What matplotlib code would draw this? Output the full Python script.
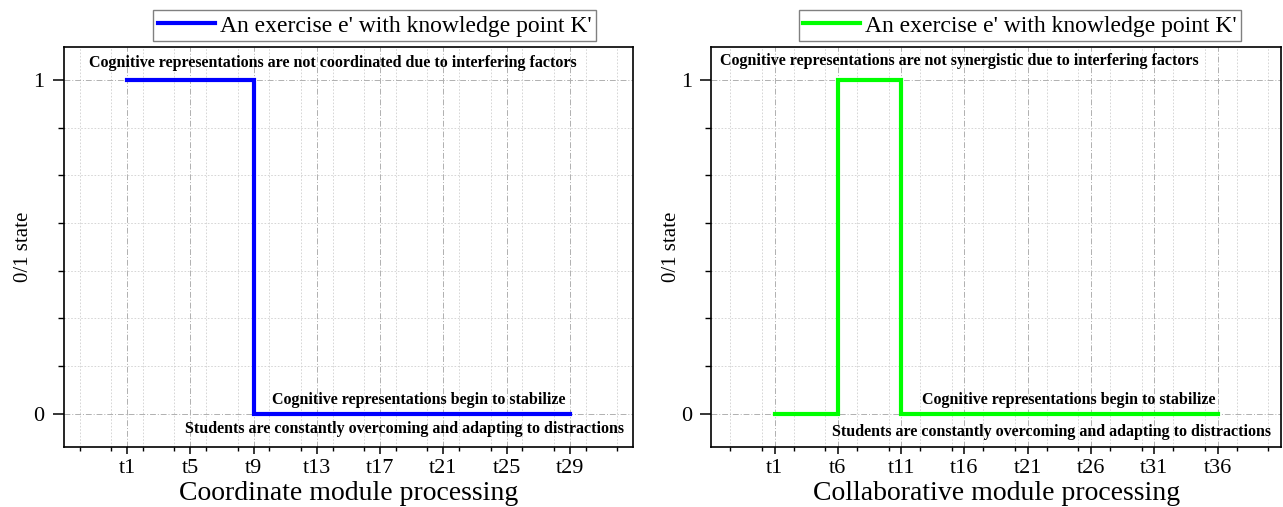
import numpy as np
import matplotlib.pyplot as plt
from matplotlib.ticker import MultipleLocator, FixedLocator

plt.rcParams['font.family'] = ['Liberation Serif', 'DejaVu Serif']

# coordinate module: time steps t1..t29, state 1 until t9 then 0
coord_t = list(range(1, 30))
coord_state = [1] * 8 + [0] * 21
coord_ticks = [1, 5, 9, 13, 17, 21, 25, 29]

# collaborative module: time steps t1..t36, state 1 between t6 and t11
collab_t = list(range(1, 37))
collab_state = [0] * 5 + [1] * 5 + [0] * 26
collab_ticks = [1, 6, 11, 16, 21, 26, 31, 36]

legend_label = "An exercise e' with knowledge point K'"

fig = plt.figure(figsize=(12.83, 5.07), dpi=100)
ax1 = fig.add_axes([0.0497, 0.1183, 0.4437, 0.7896])
ax2 = fig.add_axes([0.5544, 0.1183, 0.4440, 0.7896])


def style_axes(ax, ticks, xlim, minor_step, xlabel):
    ax.set_xlim(*xlim)
    ax.set_ylim(-0.1, 1.1)
    ax.xaxis.set_major_locator(FixedLocator(ticks))
    ax.set_xticklabels(['t%d' % t for t in ticks])
    ax.xaxis.set_minor_locator(MultipleLocator(minor_step))
    ax.yaxis.set_major_locator(MultipleLocator(1))
    ax.yaxis.set_minor_locator(MultipleLocator(1 / 7))
    ax.tick_params(which='major', direction='out', length=5, width=1.1,
                   labelsize=16, top=False, right=False)
    ax.tick_params(which='minor', direction='out', length=3, width=1.0,
                   top=False, right=False)
    ax.tick_params(axis='y', which='major', length=8, pad=6)
    ax.tick_params(axis='y', which='minor', length=4)
    ax.grid(which='major', color='#b0b0b0', linestyle=(0, (6, 2, 1, 2)), linewidth=0.7)
    ax.grid(which='minor', color='#d0d0d0', linestyle=(0, (2, 2)), linewidth=0.6)
    ax.set_axisbelow(True)
    for s in ax.spines.values():
        s.set_linewidth(1.2)
    ax.set_xlabel(xlabel, fontsize=20, labelpad=2)
    ax.set_ylabel('0/1 state', fontsize=15)
    ax.yaxis.set_label_coords(-0.054, 0.5)


ax1.plot(coord_t, coord_state, drawstyle='steps-post', color='#0000ff', lw=3,
         label=legend_label, solid_joinstyle='miter')
style_axes(ax1, coord_ticks, (-3, 33), 2, 'Coordinate module processing')
ax1.text(14.0, 1.051, 'Cognitive representations are not coordinated due to interfering factors',
         ha='center', va='center', fontsize=11.5, fontweight='bold')
ax1.text(19.47, 0.042, 'Cognitive representations begin to stabilize',
         ha='center', va='center', fontsize=11.5, fontweight='bold')
ax1.text(18.53, -0.045, 'Students are constantly overcoming and adapting to distractions',
         ha='center', va='center', fontsize=11.5, fontweight='bold')

ax2.plot(collab_t, collab_state, drawstyle='steps-post', color='#00ff00', lw=3,
         label=legend_label, solid_joinstyle='miter')
style_axes(ax2, collab_ticks, (-4, 41), 2.5, 'Collaborative module processing')
ax2.text(15.6, 1.057, 'Cognitive representations are not synergistic due to interfering factors',
         ha='center', va='center', fontsize=11.5, fontweight='bold')
ax2.text(24.2, 0.042, 'Cognitive representations begin to stabilize',
         ha='center', va='center', fontsize=11.5, fontweight='bold')
ax2.text(22.9, -0.054, 'Students are constantly overcoming and adapting to distractions',
         ha='center', va='center', fontsize=11.5, fontweight='bold')

for ax, cx in ((ax1, 0.292), (ax2, 0.795)):
    leg = ax.legend(loc='center', bbox_to_anchor=(cx, 0.949), bbox_transform=fig.transFigure,
                    fontsize=17, frameon=True, fancybox=False, framealpha=1,
                    edgecolor='#808080', handlelength=2.4, handletextpad=0.2,
                    borderpad=0.2, borderaxespad=0)
    leg.get_frame().set_linewidth(1.0)

fig.savefig('out.png', dpi=100)
